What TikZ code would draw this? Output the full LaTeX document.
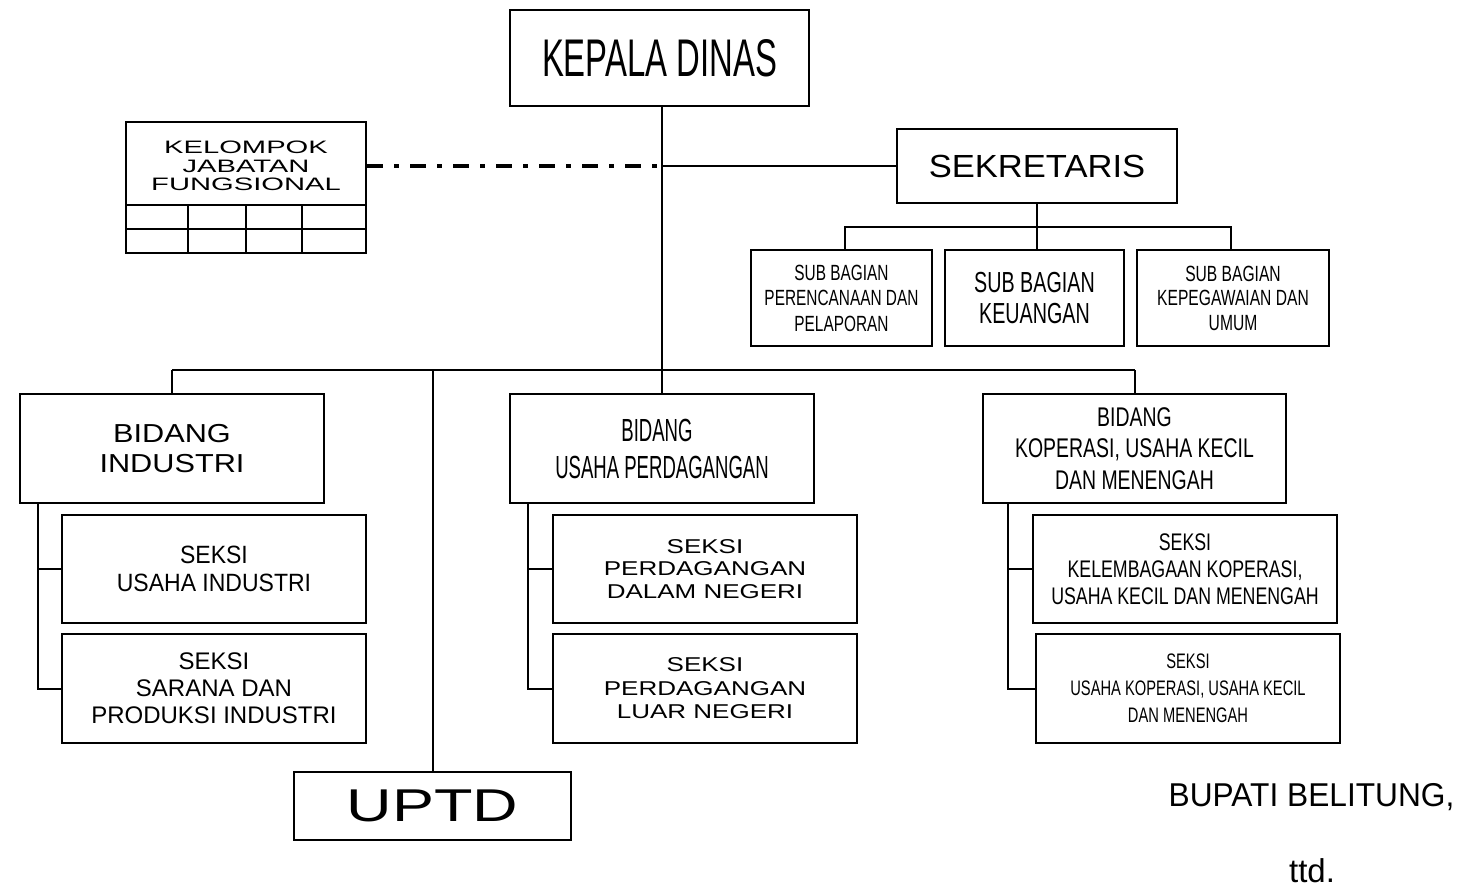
\documentclass[tikz,border=0pt]{standalone}
\usepackage{fontspec}
\setmainfont{Liberation Sans}
\newcommand\txf[3]{\fontsize{#1}{#2}\selectfont\addfontfeatures{FakeStretch=#3}}
\begin{document}
\begin{tikzpicture}[x=1pt,y=-1pt,
  box/.style={draw,line width=2pt,inner sep=0pt,align=center},
  ln/.style={line width=2pt},
  dashdot/.style={line width=4pt,dash pattern=on 16pt off 11pt on 5pt off 11pt},
  lbl/.style={inner sep=0pt,align=center}]
\fill[white] (0,0) rectangle (1471,890);
\useasboundingbox (0,0) rectangle (1471,890);

% top
\node[box,minimum width=299,minimum height=96,font=\txf{53}{60}{0.62}] (kd) at (659.5,58) {KEPALA DINAS};

% kelompok jabatan fungsional
\node[box,minimum width=240,minimum height=131] (kjf) at (246,187.5) {};
\node[lbl,font=\txf{18}{18.5}{1.62}] (kjft) at (246,166) {KELOMPOK\\JABATAN\\FUNGSIONAL};
\draw[line width=1.5pt] (126,205) -- (366,205) (126,229) -- (366,229)
  (188,205) -- (188,253) (246,205) -- (246,253) (302,205) -- (302,253);

% sekretaris
\node[box,minimum width=280,minimum height=74,font=\txf{32}{36}{1.08}] (sek) at (1037,166) {SEKRETARIS};
\node[box,minimum width=181,minimum height=96,font=\txf{22}{25.5}{0.70}] (sb1) at (841.5,298) {SUB BAGIAN\\PERENCANAAN DAN\\PELAPORAN};
\node[box,minimum width=179,minimum height=96,font=\txf{29}{31}{0.68}] (sb2) at (1034.5,298) {SUB BAGIAN\\KEUANGAN};
\node[box,minimum width=192,minimum height=96,font=\txf{22}{24.5}{0.71}] (sb3) at (1233,298) {SUB BAGIAN\\KEPEGAWAIAN DAN\\UMUM};

% bidang
\node[box,minimum width=304,minimum height=109,font=\txf{26}{30}{1.18}] (bi) at (172,448.5) {BIDANG\\INDUSTRI};
\node[box,minimum width=304,minimum height=108,font=\txf{25}{28}{0.92}] (sui) at (214,569) {SEKSI\\USAHA INDUSTRI};
\node[box,minimum width=304,minimum height=109,font=\txf{24}{27}{1.0}] (ssp) at (214,688.5) {SEKSI\\SARANA DAN\\PRODUKSI INDUSTRI};

\node[box,minimum width=304,minimum height=109,font=\txf{32}{37}{0.58}] (bup) at (662,448.5) {BIDANG\hspace*{10pt}\\USAHA PERDAGANGAN};
\node[box,minimum width=304,minimum height=108,font=\txf{20}{22.5}{1.3}] (pdn) at (705,569) {SEKSI\\PERDAGANGAN\\DALAM NEGERI};
\node[box,minimum width=304,minimum height=109,font=\txf{20}{23.5}{1.3}] (pln) at (705,688.5) {SEKSI\\PERDAGANGAN\\LUAR NEGERI};

\node[box,minimum width=303,minimum height=109,font=\txf{27}{31.5}{0.72}] (kukm) at (1134.5,448.5) {BIDANG\\KOPERASI, USAHA KECIL\\DAN MENENGAH};
\node[box,minimum width=304,minimum height=108,font=\txf{24}{27}{0.74}] (kel) at (1185,569) {SEKSI\\KELEMBAGAAN KOPERASI,\\USAHA KECIL DAN MENENGAH};
\node[box,minimum width=304,minimum height=109,font=\txf{21}{27}{0.70}] (uk) at (1188,688.5) {SEKSI\\USAHA KOPERASI, USAHA KECIL\\DAN MENENGAH};

\node[box,minimum width=277,minimum height=68,font=\txf{46}{50}{1.37}] (uptd) at (432.5,806) {UPTD};

\node[lbl,font=\txf{33}{36}{0.96}] (bupati) at (1311.5,797) {BUPATI BELITUNG,};
\node[lbl,font=\txf{33}{36}{1.0}] (ttd) at (1312,871) {ttd.};

% connectors
\coordinate (busy) at (0,370);
\coordinate (sbus) at (0,227);
\coordinate (trunk) at (bup.north |- kd.south);
\draw[ln] (trunk) -- (trunk |- busy);
\draw[ln] (bi.north |- busy) -- (kukm.north |- busy);
\draw[ln] (bi.north |- busy) -- (bi.north);
\draw[ln] (uptd.north |- busy) -- (uptd.north);
\draw[ln] (bup.north |- busy) -- (bup.north);
\draw[ln] (kukm.north |- busy) -- (kukm.north);
\draw[ln] (trunk |- sek.west) -- (sek.west);
\draw[dashdot] (kjf.east |- sek.west) -- (trunk |- sek.west);
\draw[ln] (sek.south) -- (sek.south |- sb2.north);
\draw[ln] ([xshift=3pt]sb1.north) -- ([xshift=3pt]sb1.north |- sbus) -- ([xshift=-2pt]sb3.north |- sbus) -- ([xshift=-2pt]sb3.north);

\draw[ln] ([xshift=19pt]bi.south west) |- (sui.west);
\draw[ln] ([xshift=19pt]bi.south west) |- (ssp.west);
\draw[ln] ([xshift=19pt]bup.south west) |- (pdn.west);
\draw[ln] ([xshift=19pt]bup.south west) |- (pln.west);
\draw[ln] ([xshift=26pt]kukm.south west) |- (kel.west);
\draw[ln] ([xshift=26pt]kukm.south west) |- (uk.west);
\end{tikzpicture}
\end{document}
